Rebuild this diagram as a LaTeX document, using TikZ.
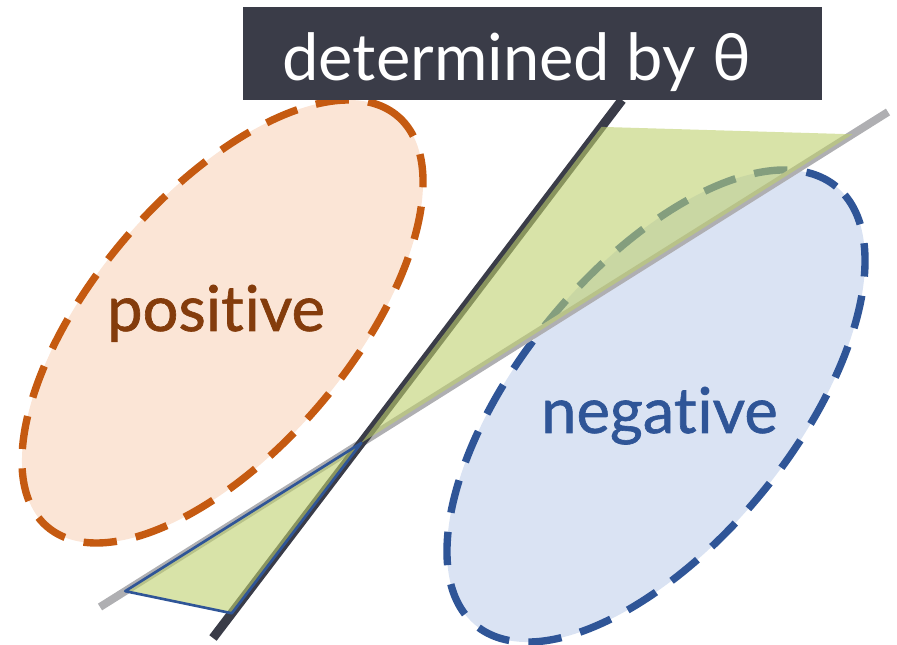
\documentclass[tikz,border=0pt]{standalone}
\usepackage{fontspec}
\setmainfont[Ligatures=NoCommon]{Lato}
\newfontfamily\latomid[FakeBold=1, Ligatures=NoCommon]{Lato}
\usepackage{tikz}
\usetikzlibrary{calc}
\definecolor{boxDark}{RGB}{58,60,72}
\definecolor{sepGray}{RGB}{175,175,178}
\definecolor{posOrange}{HTML}{C55A11}
\definecolor{posFill}{HTML}{FBE5D6}
\definecolor{posText}{HTML}{843C0C}
\definecolor{negBlue}{HTML}{2F5597}
\definecolor{negFill}{HTML}{DAE3F3}
\definecolor{wedgeGreen}{RGB}{190,208,110}

\begin{document}
\begin{tikzpicture}[x=0.02cm, y=-0.02cm,
        every node/.style={font=\fontsize{36}{40}\selectfont, inner sep=0pt},
        blob/.style={line width=4.2pt, dash pattern=on 19pt off 11pt},
        wedge/.style={fill=wedgeGreen, fill opacity=0.6}]

        \useasboundingbox (0,0) rectangle (897,645);

        % class regions
        \filldraw[blob, draw=posOrange, fill=posFill, rotate around={49.5:(222.5,321.5)}]
            (222.5,321.5) ellipse [x radius=5.4cm, y radius=2.56cm];
        \filldraw[blob, draw=negBlue, fill=negFill, rotate around={50.6:(656,406)}]
            (656,406) ellipse [x radius=5.68cm, y radius=2.74cm];

        \node[text=posText, anchor=base] (pos) at (216,331) {\latomid posit\kern0.5pt ive};
        \node[text=negBlue, anchor=base] (neg) at (659.5,433) {\latomid negat\kern0.5pt ive};

        % the two separating lines
        \coordinate (g1) at (100,607);
        \coordinate (g2) at (888,112);
        \coordinate (d1) at (213,638);
        \coordinate (d2) at (622,100);
        \coordinate (cross) at (intersection of g1--g2 and d1--d2);

        \draw[sepGray, line width=4.5pt] (g1) -- (g2);
        \draw[boxDark, line width=5.2pt] (d1) -- (d2);

        % region between them
        \fill[wedge] (cross) -- ($(d1)!0.95!(d2)$) -- ($(g1)!0.955!(g2)$) -- cycle;
        \filldraw[wedge, draw=negBlue, line width=1.5pt, line join=round]
            (cross) -- ($(g1)!0.032!(g2)$) -- ($(d1)!0.046!(d2)$) -- cycle;

        % caption
        \fill[boxDark] (243,7) rectangle (822,100);
        \node[text=white, anchor=base west, font=\fontsize{37}{40}\selectfont] (theta) at (282,81) {determined by θ};

    \end{tikzpicture}
\end{document}
